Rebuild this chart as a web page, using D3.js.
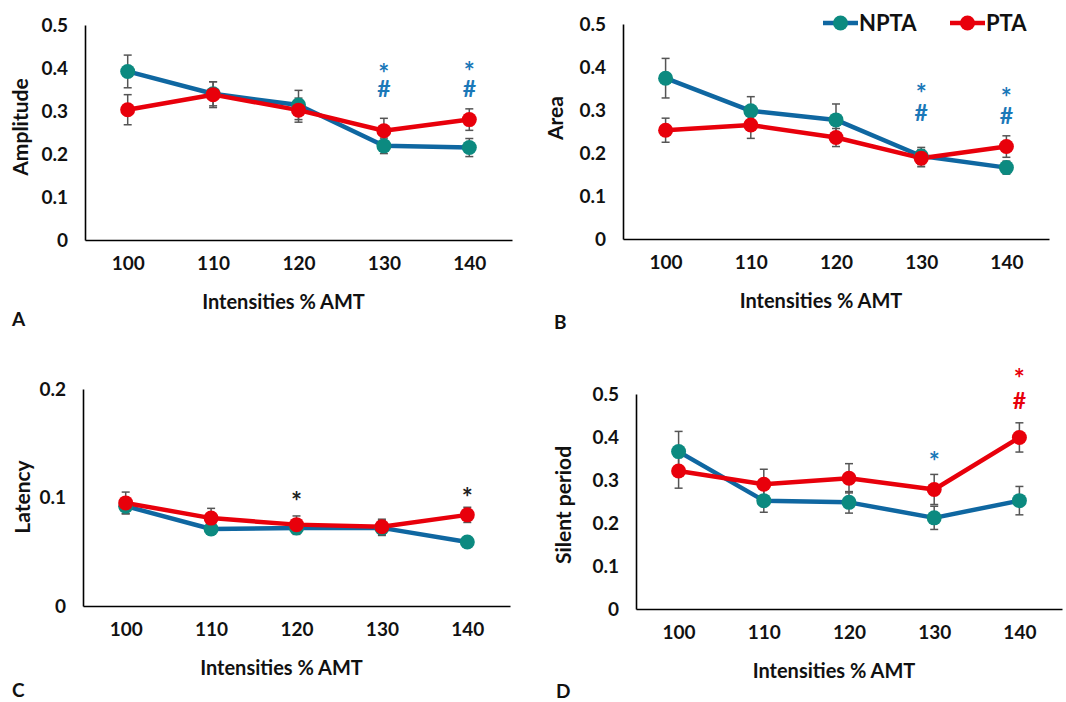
<!DOCTYPE html>
<html>
<head>
<meta charset="utf-8">
<script src="https://cdn.jsdelivr.net/npm/d3@7"></script>
<style>
  body { margin: 0; background: #fff; }
  text { font-family: Lato, "Open Sans", sans-serif; font-weight: bold; }
</style>
</head>
<body>
<script>
// intensities (% AMT)
var intensities = ["100", "110", "120", "130", "140"];
var seriesNames = ["NPTA", "PTA"];

// A - amplitude
var ampNPTA = [0.392, 0.340, 0.314, 0.219, 0.215];
var ampNPTAErr = [0.038, 0.028, 0.034, 0.018, 0.021];
var ampPTA = [0.303, 0.338, 0.302, 0.254, 0.280];
var ampPTAErr = [0.035, 0.030, 0.028, 0.029, 0.025];

// B - area
var areaNPTA = [0.374, 0.298, 0.277, 0.193, 0.166];
var areaNPTAErr = [0.046, 0.033, 0.037, 0.020, 0.015];
var areaPTA = [0.253, 0.265, 0.236, 0.188, 0.215];
var areaPTAErr = [0.028, 0.031, 0.021, 0.020, 0.025];

// C - latency
var latNPTA = [0.092, 0.071, 0.072, 0.072, 0.059];
var latNPTAErr = [0.007, 0.005, 0.006, 0.007, 0.004];
var latPTA = [0.095, 0.081, 0.075, 0.073, 0.084];
var latPTAErr = [0.010, 0.009, 0.008, 0.007, 0.007];

// D - silent period
var spNPTA = [0.366, 0.252, 0.248, 0.212, 0.252];
var spNPTAErr = [0.047, 0.027, 0.025, 0.027, 0.033];
var spPTA = [0.321, 0.290, 0.304, 0.278, 0.399];
var spPTAErr = [0.040, 0.035, 0.034, 0.035, 0.034];

var yTicks5 = [0, 0.1, 0.2, 0.3, 0.4, 0.5];
var yTicks2 = [0, 0.1, 0.2];

// significance marks per category: [category, colour key, [symbol, value at baseline], ...]
var ampMarks = [["130", "b", ["*", 0.364], ["#", 0.333]], ["140", "b", ["*", 0.369], ["#", 0.333]]];
var areaMarks = [["130", "b", ["*", 0.317], ["#", 0.275]], ["140", "b", ["*", 0.308], ["#", 0.268]]];
var latMarks = [["120", "k", ["*", 0.088]], ["140", "k", ["*", 0.091]]];
var spMarks = [["130", "b", ["*", 0.320]], ["140", "r", ["*", 0.513], ["#", 0.465]]];

var blueLine = "#0f67a1", tealDot = "#0c8a80", red = "#e8000b", markBlue = "#1a78b8", errGrey = "#555";
var markColors = { b: markBlue, r: red, k: "#222" };

var svg = d3.select("body").append("svg").attr("width", 1066).attr("height", 702);

var fmt = d => d === 0 ? "0" : d.toFixed(1);

var panels = [
  { left: 85, top: 25, bottom: 240, right: 512, max: 0.5, ticks: yTicks5,
    ylab: "Amplitude", ylabX: 21, ylabY: 127, letter: "A", letterX: 12, letterY: 326,
    npta: ampNPTA, nptaErr: ampNPTAErr, pta: ampPTA, ptaErr: ampPTAErr, marks: ampMarks },
  { left: 623, top: 24, bottom: 239, right: 1049, max: 0.5, ticks: yTicks5,
    ylab: "Area", ylabX: 556, ylabY: 118, letter: "B", letterX: 554, letterY: 329,
    npta: areaNPTA, nptaErr: areaNPTAErr, pta: areaPTA, ptaErr: areaPTAErr, marks: areaMarks, legend: true },
  { left: 83, top: 389, bottom: 606, right: 510, max: 0.2, ticks: yTicks2,
    ylab: "Latency", ylabX: 23, ylabY: 497, letter: "C", letterX: 12, letterY: 697,
    npta: latNPTA, nptaErr: latNPTAErr, pta: latPTA, ptaErr: latPTAErr, marks: latMarks },
  { left: 636, top: 394, bottom: 609, right: 1062, max: 0.5, ticks: yTicks5,
    ylab: "Silent period", ylabX: 564, ylabY: 505, letter: "D", letterX: 556, letterY: 698,
    npta: spNPTA, nptaErr: spNPTAErr, pta: spPTA, ptaErr: spPTAErr, marks: spMarks }
];

panels.forEach(function(p) {
  var x = d3.scalePoint().domain(intensities).range([p.left, p.right]).padding(0.5);
  var y = d3.scaleLinear().domain([0, p.max]).range([p.bottom, p.top]);

  var g = svg.append("g");

  // axes: plain lines, no tick marks
  var yAxis = g.append("g")
    .attr("transform", "translate(" + p.left + ",0)")
    .call(d3.axisLeft(y).tickValues(p.ticks).tickFormat(fmt).tickSize(0).tickPadding(17));
  var xAxis = g.append("g")
    .attr("transform", "translate(0," + p.bottom + ")")
    .call(d3.axisBottom(x).tickSize(0).tickPadding(17));
  [yAxis, xAxis].forEach(function(a) {
    a.select(".domain").attr("stroke", "#000").attr("stroke-width", 1.6);
    a.selectAll("text").attr("font-size", 19).attr("fill", "#111")
      .style("font-family", "Lato, sans-serif").style("font-weight", "bold");
  });

  // titles
  g.append("text")
    .attr("x", (p.left + p.right) / 2 - 15)
    .attr("y", p.bottom + 69)
    .attr("text-anchor", "middle")
    .attr("font-size", 20)
    .attr("fill", "#111")
    .text("Intensities % AMT");
  g.append("text")
    .attr("transform", "translate(" + p.ylabX + "," + p.ylabY + ") rotate(-90)")
    .attr("text-anchor", "middle")
    .attr("dy", "0.35em")
    .attr("font-size", 21)
    .attr("fill", "#111")
    .text(p.ylab);
  g.append("text")
    .attr("x", p.letterX).attr("y", p.letterY)
    .attr("font-size", 19)
    .attr("fill", "#111")
    .text(p.letter);

  var series = [
    { vals: p.npta, err: p.nptaErr, line: blueLine, dot: tealDot },
    { vals: p.pta, err: p.ptaErr, line: red, dot: red }
  ];
  var line = d3.line().x((d, i) => x(intensities[i])).y(d => y(d));

  series.forEach(function(s) {
    g.append("path")
      .attr("d", line(s.vals))
      .attr("fill", "none")
      .attr("stroke", s.line)
      .attr("stroke-width", 4.5)
      .attr("stroke-linejoin", "round");
  });

  // error bars
  series.forEach(function(s) {
    var eb = g.append("g").attr("stroke", errGrey).attr("stroke-width", 1.5);
    s.vals.forEach(function(v, i) {
      var cx = x(intensities[i]);
      eb.append("line").attr("x1", cx).attr("x2", cx).attr("y1", y(v - s.err[i])).attr("y2", y(v + s.err[i]));
      [v - s.err[i], v + s.err[i]].forEach(function(e) {
        eb.append("line").attr("x1", cx - 4).attr("x2", cx + 4).attr("y1", y(e)).attr("y2", y(e));
      });
    });
  });

  series.forEach(function(s) {
    g.selectAll(null)
      .data(s.vals)
      .enter()
      .append("circle")
      .attr("cx", (d, i) => x(intensities[i]))
      .attr("cy", d => y(d))
      .attr("r", 7.5)
      .attr("fill", s.dot);
  });

  // significance marks, one text per category
  p.marks.forEach(function(m) {
    var t = g.append("text")
      .attr("text-anchor", "middle")
      .attr("fill", markColors[m[1]]);
    m.slice(2).forEach(function(s) {
      t.append("tspan")
        .attr("x", x(m[0]))
        .attr("y", y(s[1]))
        .attr("font-size", s[0] === "*" ? 26 : 23)
        .text(s[0]);
    });
  });

  if (p.legend) {
    var items = [
      { name: seriesNames[0], x0: 823, line: blueLine, dot: tealDot },
      { name: seriesNames[1], x0: 950, line: red, dot: red }
    ];
    items.forEach(function(it) {
      g.append("line").attr("x1", it.x0).attr("x2", it.x0 + 35).attr("y1", 23).attr("y2", 23)
        .attr("stroke", it.line).attr("stroke-width", 4.5);
      g.append("circle").attr("cx", it.x0 + 17.5).attr("cy", 23).attr("r", 7.5).attr("fill", it.dot);
      g.append("text").attr("x", it.x0 + 36).attr("y", 23).attr("dy", "0.36em")
        .attr("font-size", 22).attr("fill", "#111").text(it.name);
    });
  }
});
</script>
</body>
</html>
